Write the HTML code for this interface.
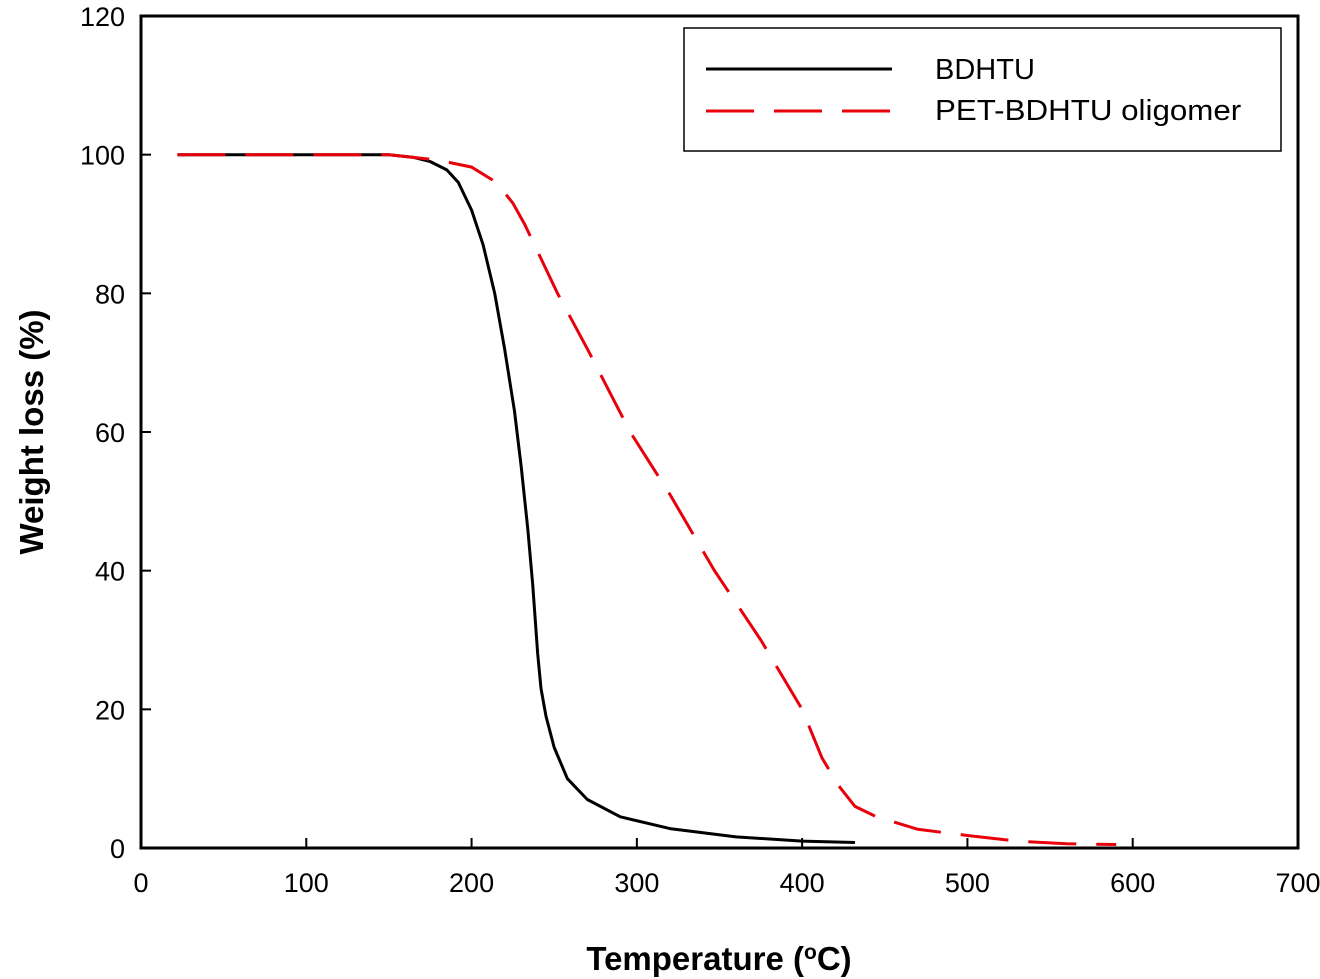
<!DOCTYPE html>
<html><head><meta charset="utf-8"><style>
html,body{margin:0;padding:0;background:#fff;}
svg{display:block;font-family:"Liberation Sans",Arial,sans-serif;}
</style></head><body>
<svg id="chart" width="1320" height="979" viewBox="0 0 1320 979" xmlns="http://www.w3.org/2000/svg"></svg>
<script>
const xTicks=[0,100,200,300,400,500,600,700];
const yTicks=[0,20,40,60,80,100,120];
const bdhtuT=[22,150,165,175,185,192,200,207,214,220,226,230,234,237,240,242,245,250,258,270,290,320,360,400,432];
const bdhtuW=[100,100,99.6,99,97.8,96,92,87,80,72,63,55,46,38,28,23,19,14.5,10,7,4.5,2.8,1.6,1.0,0.8];
const petT=[22,150,180,200,215,225,232,240,252,270,296,320,347,375,400,412,422,432,445,470,500,530,560,590];
const petW=[100,100,99.2,98.2,96,93,90,86,80,72,60,51,40,30,20,13,9,6,4.5,2.7,1.8,1.0,0.6,0.5];
const L=141,R=1298,T=16,B=848;
const sx=v=>L+(v-0)/(700-0)*(R-L);
const sy=v=>B-(v-0)/(120-0)*(B-T);
const svg=document.getElementById('chart');
const NS='http://www.w3.org/2000/svg';
function mk(tag,attrs,parent){const e=document.createElementNS(NS,tag);for(const k in attrs)e.setAttribute(k,attrs[k]);(parent||svg).appendChild(e);return e;}
const frame=mk('rect',{x:L,y:T,width:R-L,height:B-T,fill:'none',stroke:'#000','stroke-width':3});


xTicks.forEach(v=>{
 const t=mk('line',{x1:sx(v),x2:sx(v),y1:B,y2:B-10,stroke:'#000','stroke-width':2});
 
 
 const l=mk('text',{x:sx(v),y:B+44,'text-anchor':'middle','font-size':27,fill:'#000'});
 l.textContent=v;
 
 
});
yTicks.forEach(v=>{
 const t=mk('line',{x1:L,x2:L+10,y1:sy(v),y2:sy(v),stroke:'#000','stroke-width':2});
 
 
 const l=mk('text',{x:L-16,y:sy(v)+10,'text-anchor':'end','font-size':27,fill:'#000'});
 l.textContent=v;
 
 
});
function path(xs,ys){return xs.map((x,i)=>(i?'L':'M')+sx(x).toFixed(1)+','+sy(ys[i]).toFixed(1)).join(' ');}
const p1=mk('path',{d:path(bdhtuT,bdhtuW),fill:'none',stroke:'#000','stroke-width':3,'stroke-linejoin':'round'});


const p2=mk('path',{d:path(petT,petW),fill:'none',stroke:'#e8000b','stroke-width':3,'stroke-dasharray':'48,20'});


const xt=mk('text',{x:719,y:970,'text-anchor':'middle','font-size':33,'font-weight':'bold'});
xt.innerHTML='Temperature (<tspan baseline-shift="super" font-size="21">o</tspan>C)';


const yt=mk('text',{x:0,y:0,'text-anchor':'middle','font-size':33,'font-weight':'bold',transform:'translate(43,432) rotate(-90)'});
yt.textContent='Weight loss (%)';


const lg=mk('g',{});


mk('rect',{x:684,y:28,width:597,height:123,fill:'#fff',stroke:'#000','stroke-width':1.5},lg);
const e1=mk('line',{x1:706,x2:892,y1:69,y2:69,stroke:'#000','stroke-width':3},lg);


const t1=mk('text',{x:935,y:79,'font-size':29},lg);t1.textContent='BDHTU';


const e2=mk('line',{x1:706,x2:892,y1:111,y2:111,stroke:'#e8000b','stroke-width':3,'stroke-dasharray':'48,20'},lg);


const t2=mk('text',{x:0,y:0,'font-size':29,transform:'translate(935,120) scale(1.08,1)'},lg);t2.textContent='PET-BDHTU oligomer';


</script>
</body></html>
